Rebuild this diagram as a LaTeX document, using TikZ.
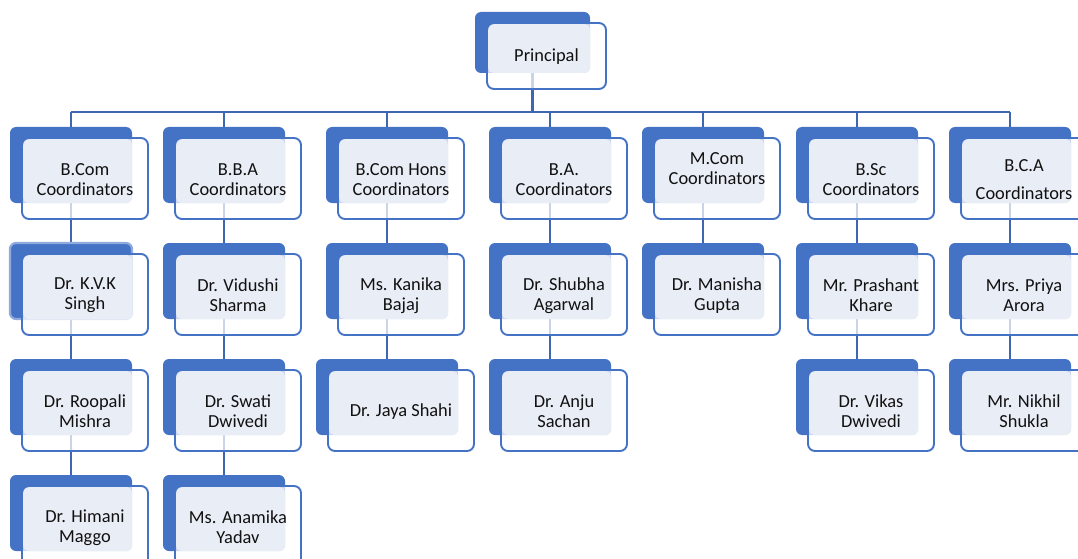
\documentclass[tikz,border=0pt]{standalone}
\usepackage{fontspec}
\setmainfont{Carlito}
\definecolor{acc}{HTML}{4472C4}
\definecolor{lineblue}{HTML}{3F66B0}
\definecolor{lite}{HTML}{E9EDF6}
\definecolor{txt}{HTML}{111111}
\definecolor{selc}{HTML}{8FAADC}
\pgfdeclarelayer{bg}
\pgfsetlayers{bg,main}
\tikzset{
  backbox/.style={fill=acc, rounded corners=6pt, inner sep=0pt, outer sep=0pt},
  frontbox/.style={fill=white, fill opacity=0.72, rounded corners=7pt, inner sep=0pt, outer sep=0pt},
  lbl/.style={font=\fontsize{18.4}{20}\selectfont, text=txt, align=center, inner sep=0pt},
  conn/.style={draw=lineblue, line width=2.6pt},
  frame/.style={draw=acc, line width=1.9pt, rounded corners=7pt},
  overlap/.style={fill=lite, rounded corners=5pt},
  plain/.style={},
  selected/.style={draw=selc, line width=2.2pt}
}
% #1 name, #2 cx, #3 cy (back centre), #4 w, #5 h, #6 text, #7 text opts, #8 back opts
\newcommand\orgbox[8]{%
  \node[backbox, minimum width=#4pt, minimum height=#5pt, #8] (#1b) at (#2,#3) {};
  \node[frontbox, minimum width=#4pt+4pt, minimum height=#5pt+5pt] (#1) at (#2+14,#3+13.5) {};
  \fill[overlap] ([shift={(1.2,1.2)}]#1.north west) rectangle (#1b.south east);
  \draw[frame] (#1.north west) rectangle (#1.south east);
  \node[lbl, #7] (#1t) at ([yshift=-0.8pt]#1.center) {#6};
}
\begin{document}
\begin{tikzpicture}[x=1pt, y=-1pt]
\useasboundingbox (0,0) rectangle (1078,559);
\clip (0,0) rectangle (1078,559);
\coordinate (bus) at (0,112);

\orgbox{principal}{532.5}{42.5}{115}{61}{Principal}{}{plain}

\orgbox{bcom}{71}{165}{122}{76}{B.Com\\Coordinators}{}{plain}
\orgbox{bba}{224}{165}{122}{76}{B.B.A\\Coordinators}{}{plain}
\orgbox{bcomh}{387}{165}{122}{76}{B.Com Hons\\Coordinators}{}{plain}
\orgbox{ba}{550}{165}{122}{76}{B.A.\\Coordinators}{}{plain}
\orgbox{mcom}{703}{165}{122}{76}{M.Com\\Coordinators}{yshift=11pt}{plain}
\orgbox{bsc}{857}{165}{122}{76}{B.Sc\\Coordinators}{}{plain}
\orgbox{bca}{1010}{165}{122}{76}{B.C.A\\[8pt]Coordinators}{}{plain}

\orgbox{kvk}{71}{281}{122}{76}{Dr. K.V.K\\Singh}{}{selected}
\orgbox{vidushi}{224}{281}{122}{76}{Dr. Vidushi\\Sharma}{}{plain}
\orgbox{kanika}{387}{281}{122}{76}{Ms. Kanika\\Bajaj}{}{plain}
\orgbox{shubha}{550}{281}{122}{76}{Dr. Shubha\\Agarwal}{}{plain}
\orgbox{manisha}{703}{281}{122}{76}{Dr. Manisha\\Gupta}{}{plain}
\orgbox{prashant}{857}{281}{122}{76}{Mr. Prashant\\Khare}{}{plain}
\orgbox{priya}{1010}{281}{122}{76}{Mrs. Priya\\Arora}{}{plain}

\orgbox{roopali}{71}{397}{122}{76}{Dr. Roopali\\Mishra}{}{plain}
\orgbox{swati}{224}{397}{122}{76}{Dr. Swati\\Dwivedi}{}{plain}
\orgbox{jaya}{387}{397}{142}{76}{Dr. Jaya Shahi}{}{plain}
\orgbox{anju}{550}{397}{122}{76}{Dr. Anju\\Sachan}{}{plain}
\orgbox{vikas}{857}{397}{122}{76}{Dr. Vikas\\Dwivedi}{}{plain}
\orgbox{nikhil}{1010}{397}{122}{76}{Mr. Nikhil\\Shukla}{}{plain}

\orgbox{himani}{71}{513}{122}{76}{Dr. Himani\\Maggo}{}{plain}
\orgbox{anamika}{224}{513}{122}{76}{Ms. Anamika\\Yadav}{}{plain}

\begin{pgfonlayer}{bg}
  \clip (0,0) rectangle (1078,559);
  \draw[conn] (principalb.south) -- (principalb.south |- bus);
  \draw[conn] (bcomb.north |- bus) -- (bcab.north |- bus);
  \foreach \c in {bcom,bba,bcomh,ba,mcom,bsc,bca}
    \draw[conn] (\c b.north |- bus) -- (\c b.north);
  \foreach \u/\d in {bcom/kvk, kvk/roopali, roopali/himani,
                     bba/vidushi, vidushi/swati, swati/anamika,
                     bcomh/kanika, kanika/jaya,
                     ba/shubha, shubha/anju,
                     mcom/manisha,
                     bsc/prashant, prashant/vikas,
                     bca/priya, priya/nikhil}
    \draw[conn] (\u b.south) -- (\d b.north);
\end{pgfonlayer}
\end{tikzpicture}
\end{document}
